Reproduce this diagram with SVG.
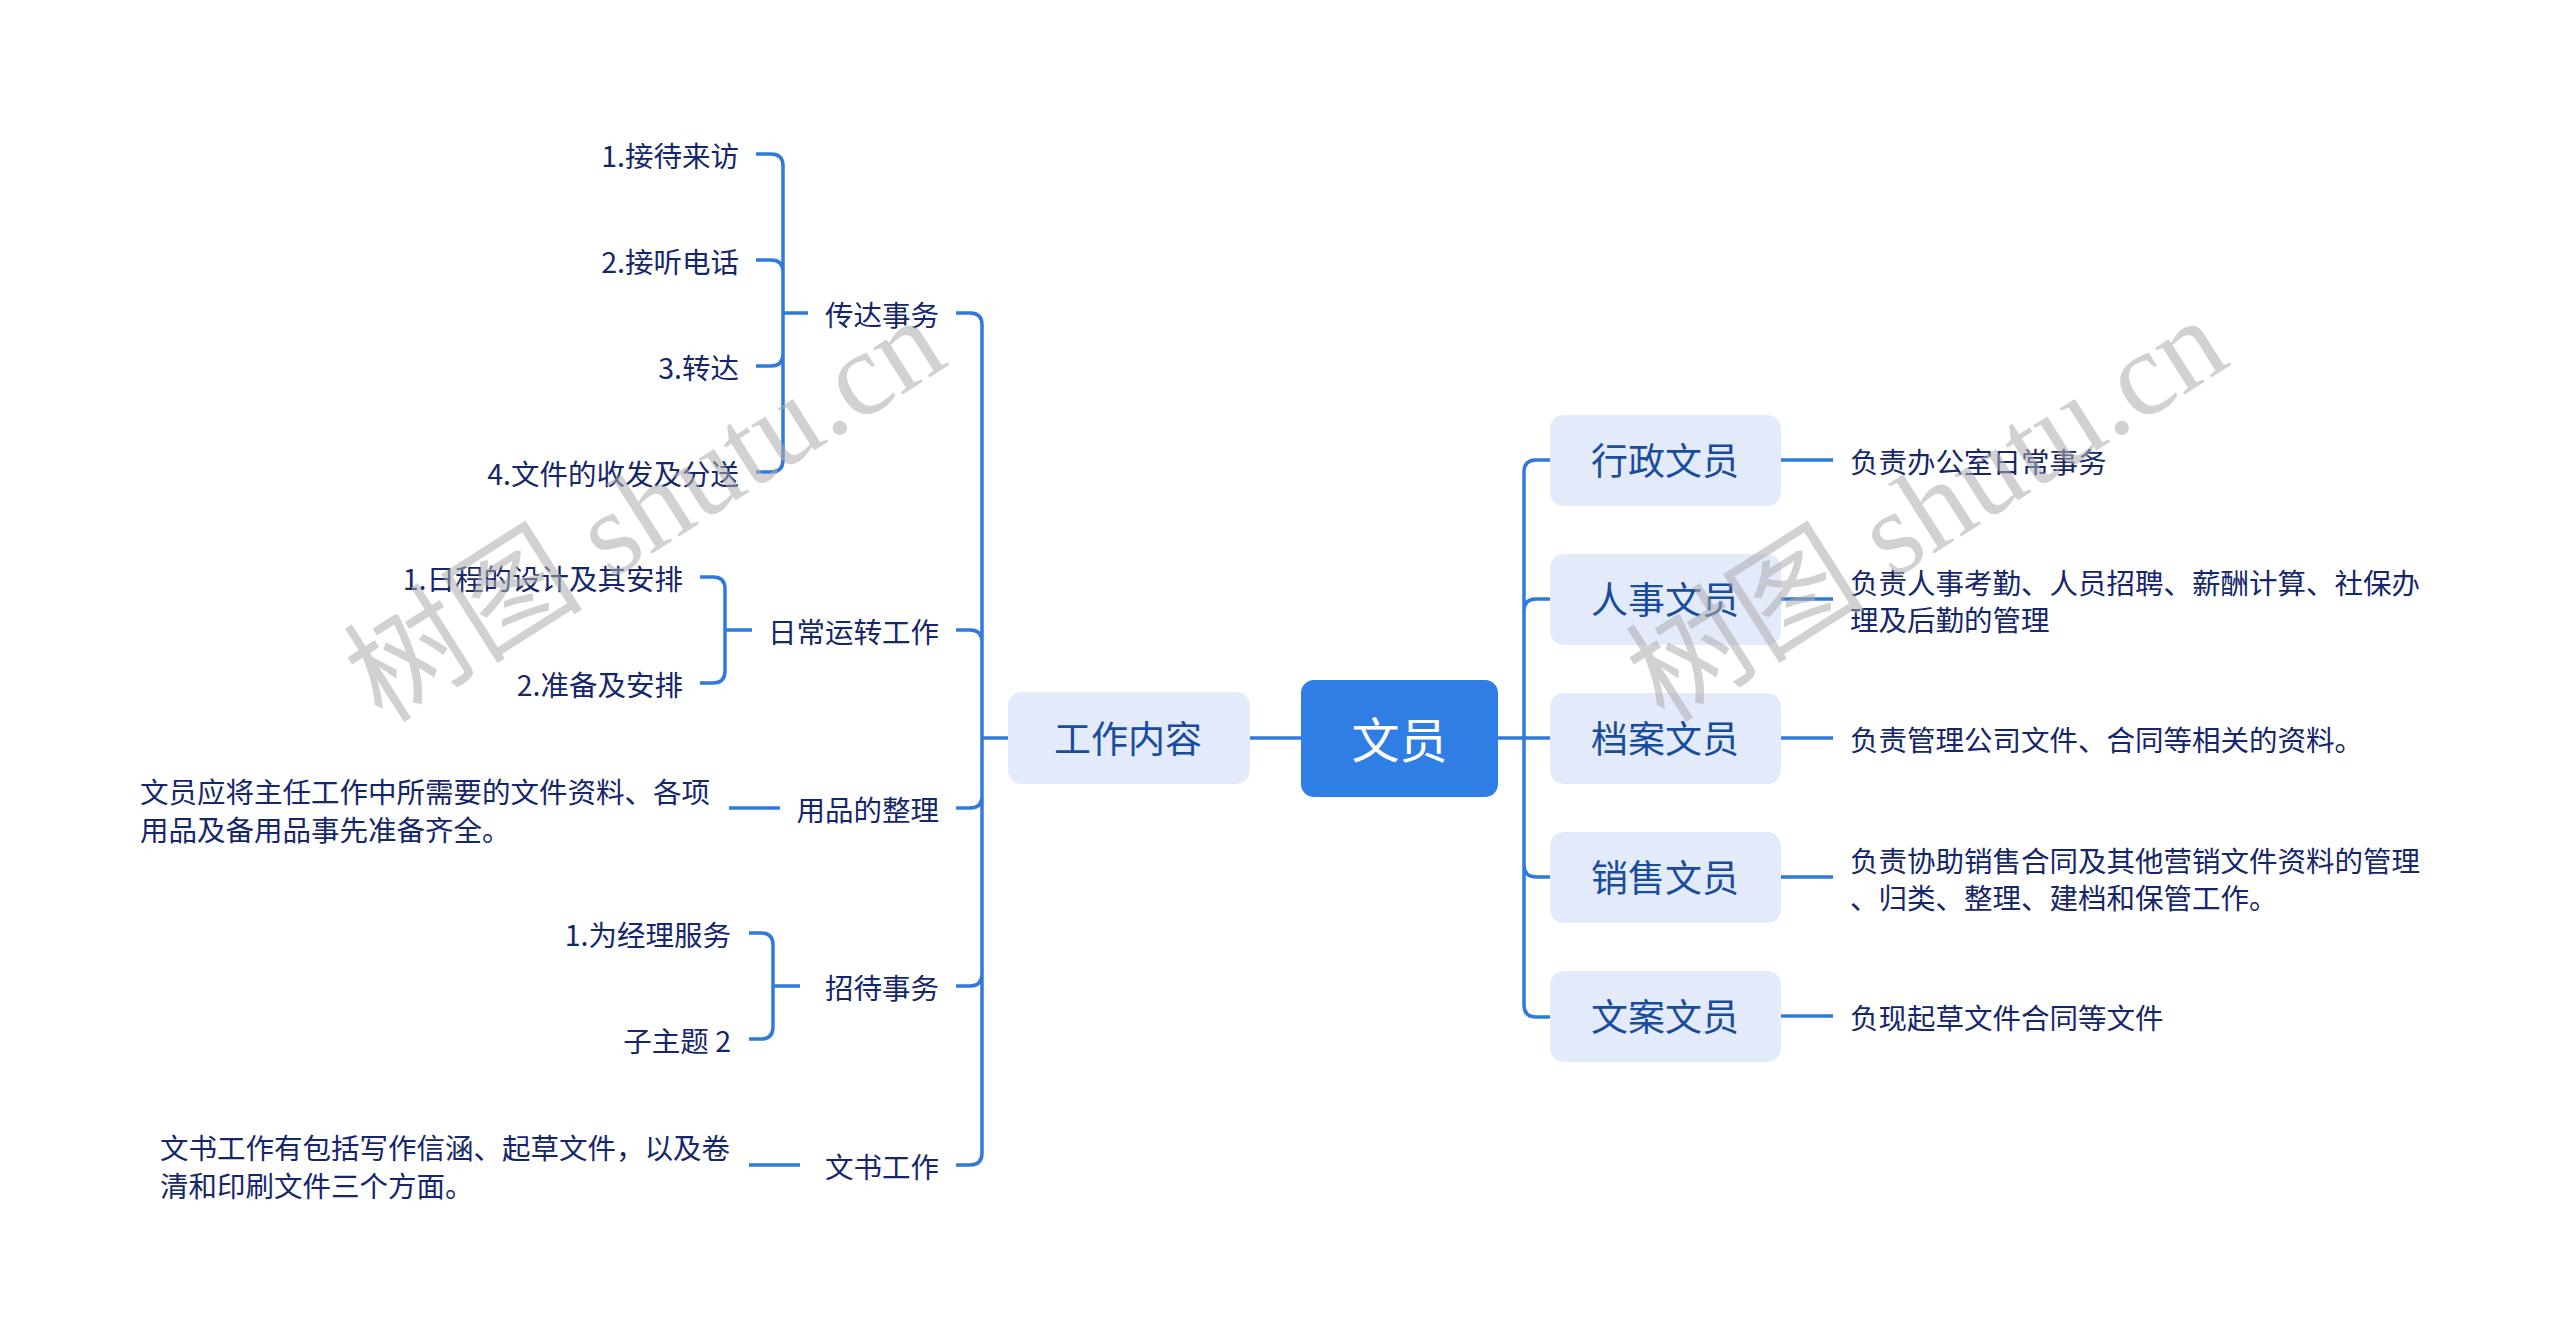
<svg xmlns="http://www.w3.org/2000/svg" width="2560" height="1336" viewBox="0 0 2560 1336">
<style>
.ln{fill:none;stroke:#2f7ada;stroke-width:3.5;stroke-linecap:butt}
.box{fill:#e3ebfb}
.bt{font-family:"Noto Sans CJK SC","Microsoft YaHei",sans-serif;font-size:37px;fill:#1a4c9e;text-anchor:middle;dominant-baseline:central}
.t{font-family:"Noto Sans CJK SC","Microsoft YaHei",sans-serif;font-size:28.5px;fill:#15266b;dominant-baseline:central}
.e{text-anchor:end}
.wm{font-family:"Liberation Serif","Noto Sans CJK SC",serif;font-size:120px;fill:#adadad;opacity:0.55;text-anchor:middle;dominant-baseline:central}
</style>
<rect width="2560" height="1336" fill="#ffffff"/>
<g id="connectors">
<path class="ln" d="M1250 738H1301M982 738H1008M1498 738H1524"/>
<path class="ln" d="M956 313H970Q982 313 982 325V1153Q982 1165 970 1165H956M956 630H970Q982 630 982 642M956 808H970Q982 808 982 796M956 986H970Q982 986 982 974"/>
<path class="ln" d="M756 154H771Q783 154 783 166V460Q783 472 771 472H756M756 260H771Q783 260 783 272M756 366H771Q783 366 783 354M783 313H808"/>
<path class="ln" d="M700 577H713Q725 577 725 589V671Q725 683 713 683H700M725 630H752"/>
<path class="ln" d="M749 933H761Q773 933 773 945V1027Q773 1039 761 1039H749M773 986H800"/>
<path class="ln" d="M729 808H780M749 1165H800"/>
<path class="ln" d="M1550 460H1536Q1524 460 1524 472V1005Q1524 1017 1536 1017H1550M1550 599H1536Q1524 599 1524 611M1550 877H1536Q1524 877 1524 865M1524 738H1550"/>
<path class="ln" d="M1781 460H1833M1781 599H1833M1781 738H1833M1781 877H1833M1781 1016H1833"/>
</g>
<g id="root"><rect x="1301" y="680" width="197" height="117" rx="13" fill="#2f7ee3"/><text x="1399.5" y="737" class="bt" style="font-size:48px;fill:#ffffff">文员</text></g>
<g id="n-gznr"><rect class="box" x="1008" y="692" width="242" height="92" rx="14"/><text class="bt" x="1128" y="737">工作内容</text></g>
<g id="n-xz"><rect class="box" x="1550" y="415" width="231" height="91" rx="14"/><text class="bt" x="1665" y="459">行政文员</text></g>
<g id="n-rs"><rect class="box" x="1550" y="554" width="231" height="91" rx="14"/><text class="bt" x="1665" y="598">人事文员</text></g>
<g id="n-da"><rect class="box" x="1550" y="693" width="231" height="91" rx="14"/><text class="bt" x="1665" y="737">档案文员</text></g>
<g id="n-xs"><rect class="box" x="1550" y="832" width="231" height="91" rx="14"/><text class="bt" x="1665" y="876">销售文员</text></g>
<g id="n-wa"><rect class="box" x="1550" y="971" width="231" height="91" rx="14"/><text class="bt" x="1665" y="1015">文案文员</text></g>
<g id="r-leaf1"><text class="t" x="1850" y="460">负责办公室日常事务</text></g>
<g id="r-leaf2"><text class="t" x="1850" y="581">负责人事考勤、人员招聘、薪酬计算、社保办</text><text class="t" x="1850" y="618">理及后勤的管理</text></g>
<g id="r-leaf3"><text class="t" x="1850" y="738">负责管理公司文件、合同等相关的资料。</text></g>
<g id="r-leaf4"><text class="t" x="1850" y="859">负责协助销售合同及其他营销文件资料的管理</text><text class="t" x="1850" y="896">、归类、整理、建档和保管工作。</text></g>
<g id="r-leaf5"><text class="t" x="1850" y="1016">负现起草文件合同等文件</text></g>
<g id="n-cd"><text class="t e" x="939" y="313">传达事务</text></g>
<g id="n-rc"><text class="t e" x="939" y="630">日常运转工作</text></g>
<g id="n-yp"><text class="t e" x="939" y="808">用品的整理</text></g>
<g id="n-zd"><text class="t e" x="939" y="986">招待事务</text></g>
<g id="n-ws"><text class="t e" x="939" y="1165">文书工作</text></g>
<g id="l-cd1"><text class="t e" x="739" y="154">1.接待来访</text></g>
<g id="l-cd2"><text class="t e" x="739" y="260">2.接听电话</text></g>
<g id="l-cd3"><text class="t e" x="739" y="366">3.转达</text></g>
<g id="l-cd4"><text class="t e" x="739" y="472">4.文件的收发及分送</text></g>
<g id="l-rc1"><text class="t e" x="683" y="577">1.日程的设计及其安排</text></g>
<g id="l-rc2"><text class="t e" x="683" y="683">2.准备及安排</text></g>
<g id="l-yp"><text class="t" x="140" y="790">文员应将主任工作中所需要的文件资料、各项</text><text class="t" x="140" y="828">用品及备用品事先准备齐全。</text></g>
<g id="l-zd1"><text class="t e" x="731" y="933">1.为经理服务</text></g>
<g id="l-zd2"><text class="t e" x="731" y="1039">子主题 2</text></g>
<g id="l-ws"><text class="t" x="160" y="1146">文书工作有包括写作信涵、起草文件，以及卷</text><text class="t" x="160" y="1184">清和印刷文件三个方面。</text></g>
<g id="watermark">
<text class="wm" transform="translate(645 510) rotate(-32.4)">树图 shutu.cn</text>
<text class="wm" transform="translate(1927 510) rotate(-32.4)">树图 shutu.cn</text>
</g>
</svg>
